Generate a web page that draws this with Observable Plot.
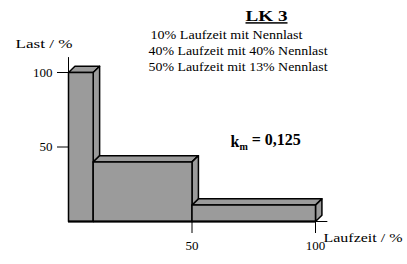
<!DOCTYPE html>
<html>
<head>
<meta charset="utf-8">
<script src="https://cdn.jsdelivr.net/npm/d3@7"></script>
<script src="https://cdn.jsdelivr.net/npm/@observablehq/plot@0.6"></script>
<style>
  html, body { margin: 0; padding: 0; background: #fff; }
</style>
</head>
<body>
<div id="chart"></div>
<script>
// ---- data ----
const laufzeitAnteil = [10, 40, 50];     // % of running time per step
const lastAnteil = [100, 40, 11];        // % of nominal load per step
const xTicks = [50, 100];
const yTicks = [50, 100];
const titel = "LK 3";
const legende = [
  "10% Laufzeit mit Nennlast",
  "40% Laufzeit mit 40% Nennlast",
  "50% Laufzeit mit 13% Nennlast"
];
const kmWert = "0,125";
const yLabel = "Last / %";
const xLabel = "Laufzeit / %";

// ---- 3D box faces (depth in data units) ----
const DX = 2.6, DY = 4.2;
const faces = [];
let start = 0;
laufzeitAnteil.forEach((w, i) => {
  const x1 = start, x2 = start + w, v = lastAnteil[i];
  const add = (name, pts) => pts.forEach(([x, y]) => faces.push({face: `${i}-${name}`, x, y}));
  add("top", [[x1, v], [x2, v], [x2 + DX, v + DY], [x1 + DX, v + DY]]);
  add("side", [[x2, 0], [x2 + DX, DY], [x2 + DX, v + DY], [x2, v]]);
  add("front", [[x1, 0], [x2, 0], [x2, v], [x1, v]]);
  start = x2;
});

const L = 68, T = 72; // frame origin for annotation offsets
const txt = (s, X, Y, opts = {}) =>
  Plot.text([s], {text: d => d, frameAnchor: "top-left", dx: X - L, dy: Y - T, textAnchor: "start", fill: "black", ...opts});

const plot = Plot.plot({
  width: 407,
  height: 264,
  marginLeft: 68,
  marginRight: 92,
  marginTop: 72,
  marginBottom: 43,
  style: {fontFamily: "'Liberation Serif', serif", fontSize: "13px", color: "black", background: "white"},
  x: {domain: [0, 100], ticks: xTicks, tickSize: 12, tickPadding: 7, label: null, tickFormat: d => d},
  y: {domain: [0, 100], ticks: yTicks, tickSize: 11, tickPadding: 5, label: null, tickFormat: d => d},
  marks: [
    Plot.ruleX([0], {y1: 0, y2: 110, stroke: "black", strokeWidth: 1}),
    Plot.ruleY([0], {x1: 0, x2: 105, stroke: "black", strokeWidth: 1}),
    Plot.line(faces, {x: "x", y: "y", z: "face", curve: "linear-closed", fill: "#9b9b9b", stroke: "black", strokeWidth: 1.5, strokeLinejoin: "round"}),
    Plot.ruleY([0], {x1: 0, x2: 100, stroke: "black", strokeWidth: 2}),
    txt(titel, 266, 10, {textAnchor: "middle", fontWeight: "bold", fontSize: 15}),
    txt(legende[0], 150, 30, {fontSize: 12}),
    txt(legende[1], 148, 46, {fontSize: 12}),
    txt(legende[2], 148, 62, {fontSize: 12}),
    txt(yLabel, 15, 38, {fontSize: 13}),
    txt(xLabel, 323, 232, {fontSize: 13}),
    txt("k = " + kmWert, 230, 135, {fontWeight: "bold", fontSize: 16})
  ]
});

// text widths / decorations
const widths = {};
widths[titel] = 42;
widths[legende[0]] = 152;
widths[legende[1]] = 179;
widths[legende[2]] = 179;
widths[yLabel] = 57;
widths[xLabel] = 79;
d3.select(plot).selectAll("text").each(function() {
  const t = this.textContent;
  if (widths[t]) {
    this.setAttribute("textLength", widths[t]);
    this.setAttribute("lengthAdjust", "spacingAndGlyphs");
  }
  if (t === titel) this.style.textDecoration = "underline";
  if (t === "k = " + kmWert) {
    const s = d3.select(this);
    s.text(null);
    s.append("tspan").text("k");
    s.append("tspan").attr("dy", "0.3em").attr("font-size", "10px").text("m");
    s.append("tspan").attr("dy", "-0.3em").text(" = " + kmWert);
  }
});

document.getElementById("chart").appendChild(plot);
</script>
</body>
</html>
